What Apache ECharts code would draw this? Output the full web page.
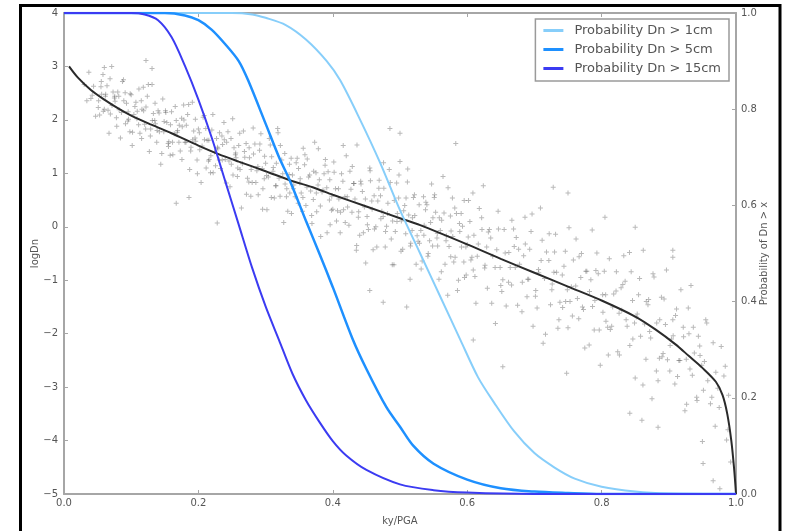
<!DOCTYPE html>
<html><head><meta charset="utf-8">
<script src="https://cdn.jsdelivr.net/npm/echarts@6/dist/echarts.min.js"></script>
<style>html,body{margin:0;padding:0;background:#fff}#c{width:789px;height:531px}</style>
</head><body><div id="c"></div>
<script>
// ---- data ----
const xTicks = [0, 0.2, 0.4, 0.6, 0.8, 1.0];
const logTicks = [-5, -4, -3, -2, -1, 0, 1, 2, 3, 4];
const probTicks = [0, 0.2, 0.4, 0.6, 0.8, 1.0];
const legendNames = ['Probability Dn > 1cm', 'Probability Dn > 5cm', 'Probability Dn > 15cm'];

const meanCurve = [[0.0075,3.0],[0.02,2.8],[0.04,2.56],[0.06,2.38],[0.08,2.22],[0.10,2.08],[0.13,1.91],[0.16,1.75],[0.20,1.52],[0.23,1.36],[0.26,1.22],[0.30,1.04],[0.336,0.87],[0.37,0.74],[0.40,0.60],[0.45,0.38],[0.50,0.16],[0.53,0.03],[0.60,-0.33],[0.65,-0.6],[0.70,-0.86],[0.75,-1.12],[0.80,-1.38],[0.85,-1.68],[0.88,-1.92],[0.91,-2.2],[0.93,-2.42],[0.95,-2.64],[0.97,-2.9],[0.98,-3.15],[0.987,-3.5],[0.993,-4.0],[0.997,-4.5],[1.0,-5.0]];

const prob1cm = [[0,1],[0.25,1.0],[0.28,0.997],[0.30,0.99],[0.33,0.975],[0.36,0.945],[0.391,0.90],[0.411,0.86],[0.44,0.78],[0.47,0.69],[0.50,0.59],[0.53,0.50],[0.56,0.41],[0.59,0.32],[0.616,0.243],[0.64,0.19],[0.67,0.13],[0.70,0.085],[0.73,0.055],[0.76,0.032],[0.80,0.015],[0.85,0.005],[0.90,0.001],[1.0,0]];
const prob5cm = [[0,1],[0.15,1.0],[0.18,0.995],[0.20,0.985],[0.22,0.965],[0.24,0.935],[0.26,0.90],[0.274,0.86],[0.30,0.77],[0.32,0.70],[0.336,0.652],[0.36,0.568],[0.38,0.50],[0.40,0.43],[0.429,0.324],[0.45,0.26],[0.48,0.18],[0.50,0.14],[0.52,0.10],[0.55,0.063],[0.60,0.03],[0.65,0.012],[0.70,0.005],[0.75,0.002],[0.80,0],[1.0,0]];
const prob15cm = [[0,1],[0.10,1.0],[0.12,0.997],[0.14,0.985],[0.16,0.95],[0.18,0.89],[0.20,0.82],[0.22,0.74],[0.24,0.65],[0.26,0.56],[0.28,0.47],[0.30,0.39],[0.32,0.32],[0.34,0.25],[0.36,0.195],[0.38,0.15],[0.40,0.11],[0.42,0.08],[0.45,0.05],[0.50,0.02],[0.55,0.008],[0.60,0.003],[0.70,0],[1.0,0]];

const scatterPoints = [
[0.030,2.66],[0.034,2.36],[0.037,2.89],
[0.040,2.40],[0.044,2.63],[0.047,2.07],[0.042,2.46],
[0.055,2.62],[0.051,2.23],[0.058,2.85],[0.053,2.09],[0.056,2.48],
[0.060,2.20],[0.064,2.64],[0.067,1.75],[0.062,2.48],[0.069,2.11],
[0.075,2.41],[0.071,3.00],[0.078,2.04],[0.073,2.52],[0.076,2.35],
[0.080,2.52],[0.084,1.66],[0.087,2.72],[0.082,2.19],[0.089,2.36],
[0.095,1.98],[0.091,2.51],[0.098,1.78],[0.093,2.31],[0.096,2.01],
[0.100,2.47],[0.104,2.10],[0.107,2.33],[0.102,1.77],[0.109,2.16],
[0.115,2.36],[0.111,1.91],[0.118,2.61],[0.113,1.75],[0.116,2.20],
[0.120,1.92],[0.124,2.44],[0.127,1.41],[0.122,2.24],[0.129,1.83],
[0.135,1.99],[0.131,2.66],[0.138,1.58],[0.133,2.12],[0.136,1.93],
[0.140,2.17],[0.144,1.17],[0.147,2.39],[0.142,1.78],[0.149,1.97],
[0.155,1.56],[0.151,2.17],[0.158,1.34],[0.153,1.95],[0.156,1.59],
[0.160,2.15],[0.164,1.74],[0.167,1.99],[0.162,1.35],[0.169,1.80],
[0.175,2.03],[0.171,1.58],[0.178,2.28],[0.173,1.42],[0.176,1.87],
[0.180,1.58],[0.184,2.10],[0.187,1.07],[0.182,1.90],[0.189,1.49],
[0.195,1.66],[0.191,2.33],[0.198,1.25],[0.193,1.79],[0.196,1.60],
[0.200,1.83],[0.204,0.83],[0.207,2.05],[0.202,1.44],[0.209,1.63],
[0.215,1.23],[0.211,1.84],[0.218,1.01],[0.213,1.62],[0.216,1.26],
[0.220,1.81],[0.224,1.40],[0.227,1.65],[0.222,1.01],[0.229,1.46],
[0.235,1.70],[0.231,1.25],[0.238,1.95],[0.233,1.09],[0.236,1.54],
[0.240,1.26],[0.244,1.78],[0.247,0.75],[0.242,1.58],[0.249,1.17],
[0.255,1.35],[0.251,2.02],[0.258,0.94],[0.253,1.48],[0.256,1.29],
[0.260,1.52],[0.264,0.35],[0.267,1.79],[0.262,1.07],[0.269,1.30],
[0.275,0.84],[0.271,1.56],[0.278,0.57],[0.273,0.91],[0.276,1.29],
[0.280,0.83],[0.284,1.55],[0.287,1.05],[0.282,1.36],[0.289,0.60],
[0.295,1.09],[0.291,1.43],[0.298,0.90],[0.293,1.74],[0.296,0.71],
[0.300,1.19],[0.304,0.93],[0.307,1.53],[0.302,0.32],[0.309,1.31],
[0.315,0.77],[0.311,1.04],[0.318,1.84],[0.313,0.54],[0.316,1.19],
[0.320,0.91],[0.324,1.25],[0.327,0.08],[0.322,1.52],[0.329,0.80],
[0.335,0.98],[0.331,0.56],[0.338,1.28],[0.333,0.29],[0.336,0.63],
[0.340,0.97],[0.344,0.56],[0.347,1.28],[0.342,0.78],[0.349,1.09],
[0.355,0.29],[0.351,0.82],[0.358,1.16],[0.353,0.63],[0.356,1.47],
[0.360,0.40],[0.364,0.93],[0.367,0.67],[0.362,1.27],[0.369,0.06],
[0.375,1.01],[0.371,0.51],[0.378,0.78],[0.373,1.58],[0.376,0.28],
[0.380,0.88],[0.384,0.65],[0.387,0.99],[0.382,-0.18],[0.389,1.26],
[0.395,0.50],[0.391,0.73],[0.398,0.31],[0.393,1.03],[0.396,0.04],
[0.400,0.33],[0.404,0.71],[0.407,0.30],[0.402,1.02],[0.409,0.52],
[0.415,0.85],[0.411,-0.11],[0.418,0.56],[0.413,0.99],[0.416,0.32],
[0.420,1.33],[0.424,0.03],[0.427,0.70],[0.422,0.37],[0.429,1.13],
[0.435,-0.44],[0.431,0.81],[0.438,0.18],[0.433,0.52],[0.436,1.53],
[0.440,-0.16],[0.444,0.66],[0.447,0.37],[0.442,0.80],[0.449,-0.68],
[0.455,1.10],[0.451,0.19],[0.458,0.48],[0.453,-0.05],[0.456,0.86],
[0.460,-0.43],[0.464,0.00],[0.467,0.48],[0.462,-0.04],[0.469,0.87],
[0.475,0.19],[0.471,0.58],[0.478,-0.38],[0.473,0.29],[0.476,0.72],
[0.480,0.01],[0.484,1.07],[0.487,-0.23],[0.482,0.44],[0.489,0.11],
[0.495,0.82],[0.491,-0.71],[0.498,0.54],[0.493,-0.09],[0.496,0.25],
[0.500,1.22],[0.504,-0.42],[0.507,0.40],[0.502,0.11],[0.509,0.54],
[0.515,-0.98],[0.511,0.84],[0.518,-0.07],[0.513,0.22],[0.516,-0.31],
[0.520,0.55],[0.524,-0.70],[0.527,-0.27],[0.522,0.21],[0.529,-0.31],
[0.535,0.56],[0.531,-0.07],[0.538,0.32],[0.533,-0.64],[0.536,0.03],
[0.540,0.41],[0.544,-0.26],[0.547,0.80],[0.542,-0.50],[0.549,0.17],
[0.555,-0.21],[0.551,0.55],[0.558,-0.98],[0.553,0.27],[0.556,-0.36],
[0.560,-0.07],[0.564,0.94],[0.567,-0.70],[0.562,0.12],[0.569,-0.17],
[0.575,0.20],[0.571,-1.28],[0.578,0.54],[0.573,-0.37],[0.576,-0.08],
[0.580,-0.66],[0.584,0.25],[0.587,-1.00],[0.582,-0.57],[0.589,-0.09],
[0.595,-0.66],[0.591,0.25],[0.598,-0.38],[0.593,0.01],[0.596,-0.95],
[0.600,-0.33],[0.604,0.10],[0.607,-0.57],[0.602,0.49],[0.609,-0.81],
[0.610,-0.16],[0.615,-0.55],[0.618,0.34],[0.613,-1.43],
[0.622,-0.05],[0.626,-0.77],[0.629,-0.38],[0.624,0.77],
[0.630,-1.15],[0.635,-0.21],[0.638,-0.55],[0.633,-0.05],
[0.642,-1.81],[0.646,0.29],[0.649,-0.76],[0.644,-0.43],
[0.650,-1.10],[0.655,-0.05],[0.658,-1.48],[0.653,-0.99],
[0.662,-0.48],[0.666,-1.09],[0.669,-0.04],[0.664,-0.76],
[0.670,-0.37],[0.675,-1.47],[0.678,-0.70],[0.673,-0.20],
[0.682,-1.04],[0.686,0.18],[0.689,-1.31],[0.684,-0.54],
[0.690,-0.98],[0.695,-0.09],[0.698,-1.86],[0.693,-0.42],
[0.702,-1.19],[0.706,-0.80],[0.709,0.35],[0.704,-1.52],
[0.710,-0.63],[0.715,-0.97],[0.718,-0.47],[0.713,-2.18],
[0.722,-0.13],[0.726,-1.18],[0.729,-0.85],[0.724,-1.46],
[0.730,-0.47],[0.735,-1.90],[0.738,-1.41],[0.733,-0.85],
[0.742,-1.51],[0.746,-0.46],[0.749,-1.18],[0.744,-0.74],
[0.750,-1.89],[0.755,-1.12],[0.758,-0.62],[0.753,-1.40],
[0.762,-0.23],[0.766,-1.72],[0.769,-0.95],[0.764,-1.34],
[0.770,-0.50],[0.775,-2.27],[0.778,-0.83],[0.773,-1.55],
[0.782,-1.21],[0.786,-0.06],[0.789,-1.93],[0.784,-0.99],
[0.790,-1.38],[0.795,-0.88],[0.798,-2.59],[0.793,-0.49],
[0.802,-1.60],[0.806,-1.27],[0.809,-1.88],[0.804,-0.83],
[0.810,-2.40],[0.815,-1.86],[0.818,-1.26],[0.813,-1.92],
[0.822,-0.84],[0.826,-1.62],[0.829,-1.14],[0.824,-2.34],
[0.830,-1.56],[0.835,-1.02],[0.838,-1.86],[0.833,-0.54],
[0.842,-2.22],[0.846,-1.38],[0.849,-1.80],[0.844,-0.84],
[0.850,-2.83],[0.855,-1.27],[0.858,-2.05],[0.853,-1.63],
[0.862,-0.44],[0.866,-2.48],[0.869,-1.46],[0.864,-1.82],
[0.870,-1.36],[0.875,-3.22],[0.878,-0.94],[0.873,-2.08],
[0.882,-1.80],[0.886,-2.46],[0.889,-1.32],[0.884,-2.88],
[0.890,-2.43],[0.895,-1.83],[0.898,-2.49],[0.893,-1.35],
[0.902,-2.22],[0.906,-1.74],[0.909,-2.94],[0.904,-2.10],
[0.910,-1.66],[0.915,-2.50],[0.918,-1.18],[0.913,-2.80],
[0.922,-2.06],[0.926,-2.48],[0.929,-1.52],[0.924,-3.44],
[0.930,-2.00],[0.935,-2.78],[0.938,-2.36],[0.933,-1.10],
[0.942,-3.25],[0.946,-2.23],[0.949,-2.59],[0.944,-2.05],
[0.950,-4.02],[0.955,-1.74],[0.958,-2.88],[0.953,-2.52],
[0.962,-3.31],[0.966,-2.17],[0.969,-3.73],[0.964,-3.19],
[0.970,-2.72],[0.975,-3.38],[0.978,-2.24],[0.973,-3.02],
[0.982,-2.79],[0.986,-3.99],[0.989,-3.15],[0.984,-2.61],
[0.988,-3.80],[0.992,-4.40],
[0.060,2.98],[0.122,3.11],[0.131,2.96],[0.167,0.44],[0.186,0.55],[0.228,0.07],[0.583,1.56],[0.728,0.74],[0.750,0.63],[0.609,-2.12],[0.653,-2.62],[0.748,-2.74],[0.475,-1.41],[0.510,-1.50],[0.455,-1.19],[0.485,1.84],[0.500,1.75],[0.805,0.18],[0.850,-0.01],[0.906,-0.44],[0.906,-0.57],[0.842,-3.49],[0.860,-3.62],[0.884,-3.75],[0.951,-4.43],[0.966,-4.75],[0.976,-4.90]
];

const scatterPoints2 = [
[0.0515,2.36],[0.0555,2.72],[0.0585,2.16],
[0.0615,2.44],[0.0655,2.18],[0.0685,2.77],
[0.0715,2.27],[0.0755,2.44],[0.0785,1.88],
[0.0815,2.44],[0.0855,2.14],[0.0885,2.75],
[0.0915,1.93],[0.0955,2.15],[0.0985,2.49],
[0.1015,1.52],[0.1055,2.25],[0.1085,2.02],
[0.1115,2.58],[0.1155,1.65],[0.1185,2.17],
[0.1215,1.83],[0.1255,2.66],[0.1285,1.70],
[0.1315,1.99],[0.1355,2.31],[0.1385,1.80],
[0.1415,2.13],[0.1455,1.37],[0.1485,1.78],
[0.1515,2.14],[0.1555,1.50],[0.1585,1.91],
[0.1615,1.58],[0.1655,2.25],[0.1685,1.77],
[0.1715,1.90],[0.1755,1.26],[0.1785,2.00],
[0.1815,1.58],[0.1855,2.29],[0.1885,1.42],
[0.1915,1.63],[0.1955,2.01],[0.1985,0.99],
[0.2015,1.76],[0.2055,1.51],[0.2085,2.08],
[0.2115,1.10],[0.2155,1.62],[0.2185,1.33],
[0.2215,2.10],[0.2255,1.14],[0.2285,1.49],
[0.2315,1.76],[0.2355,1.25],[0.2385,1.63],
[0.2415,0.82],[0.2455,1.23],[0.2485,1.65],
[0.2515,0.97],[0.2555,1.38],[0.2585,1.10],
[0.2615,1.75],[0.2655,1.18],[0.2685,1.41],
[0.2715,0.61],[0.2755,1.48],[0.2785,1.07],
[0.2815,1.85],[0.2855,0.83],[0.2885,1.13],
[0.2915,1.55],[0.2955,0.33],[0.2985,1.32],
[0.3015,0.96],[0.3055,1.65],[0.3085,0.55],
[0.3115,1.11],[0.3155,0.77],[0.3185,1.76],
[0.3215,0.57],[0.3255,0.99],[0.3285,1.37],
[0.3315,0.71],[0.3355,1.17],[0.3385,0.25],
[0.3415,0.71],[0.3455,1.20],[0.3485,0.44],
[0.3515,0.90],[0.3555,0.55],[0.3585,1.35],
[0.3615,0.74],[0.3655,0.97],[0.3685,0.21],
[0.3715,1.04],[0.3755,0.63],[0.3785,1.46],
[0.3815,0.39],[0.3855,0.69],[0.3885,1.15],
[0.3915,-0.11],[0.3955,0.88],[0.3985,0.57],
[0.4015,1.21],[0.4055,0.11],[0.4085,0.71],
[0.4115,0.27],[0.4155,1.52],[0.4185,0.08],
[0.4215,0.56],[0.4255,1.04],[0.4285,0.27],
[0.4315,0.81],[0.4355,-0.35],[0.4385,0.28],
[0.4415,0.85],[0.4455,-0.11],[0.4485,0.52],
[0.4515,0.04],[0.4555,1.05],[0.4585,0.33],
[0.4615,0.58],[0.4655,-0.38],[0.4685,0.72],
[0.4715,0.15],[0.4755,1.20],[0.4785,-0.09],
[0.4815,0.25],[0.4855,0.83],[0.4885,-0.71],
[0.4915,0.49],[0.4955,0.10],[0.4985,0.97],
[0.5015,-0.46],[0.5055,0.30],[0.5085,-0.13],
[0.5115,1.08],[0.5155,-0.36],[0.5185,0.17],
[0.5215,0.60],[0.5255,-0.17],[0.5285,0.41],
[0.5315,-0.79],[0.5355,-0.16],[0.5385,0.46],
[0.5415,-0.55],[0.5455,0.08],[0.5485,-0.36],
[0.5515,0.60],[0.5555,-0.12],[0.5585,0.17],
[0.5615,-0.84],[0.5655,0.26],[0.5685,-0.26],
[0.5715,0.73],[0.5755,-0.56],[0.5785,-0.18],
[0.5815,0.35],[0.5855,-1.19],[0.5885,0.06],
[0.5915,-0.38],[0.5955,0.49],[0.5985,-0.90],
[0.6015,-0.19],[0.6055,-0.62],[0.6085,0.63],
[0.6115,-0.93],[0.6165,-0.32],
[0.6215,0.17],[0.6265,-0.72],
[0.6315,-0.10],[0.6365,-1.43],
[0.6415,-0.76],[0.6465,-0.04],
[0.6515,-1.21],[0.6565,-0.49],
[0.6615,-1.04],[0.6665,0.12],
[0.6715,-0.76],[0.6765,-0.42],
[0.6815,-1.59],[0.6865,-0.32],
[0.6915,-0.98],[0.6965,0.24],
[0.7015,-1.30],[0.7065,-0.86],
[0.7115,-0.25],[0.7165,-2.01],
[0.7215,-0.63],[0.7265,-1.07],
[0.7315,-0.14],[0.7365,-1.74],
[0.7415,-0.90],[0.7465,-1.40],
[0.7515,-0.02],[0.7565,-1.67],
[0.7615,-1.11],[0.7665,-0.56],
[0.7715,-1.50],[0.7765,-0.83],
[0.7815,-2.21],[0.7865,-1.49],
[0.7915,-0.82],[0.7965,-1.93],
[0.8015,-1.27],[0.8065,-1.77],
[0.8115,-0.60],[0.8165,-1.50],
[0.8215,-1.20],[0.8265,-2.40],
[0.8315,-1.08],[0.8365,-1.74],
[0.8415,-0.48],[0.8465,-2.10],
[0.8515,-1.69],[0.8565,-0.97],
[0.8615,-2.96],[0.8665,-1.40],
[0.8715,-1.96],[0.8765,-0.88],
[0.8815,-2.70],[0.8865,-1.74],
[0.8915,-2.37],[0.8965,-0.81],
[0.9015,-2.70],[0.9065,-2.04],
[0.9115,-1.54],[0.9165,-2.50],
[0.9215,-1.88],[0.9265,-3.32],
[0.9315,-2.66],[0.9365,-1.88],
[0.9415,-3.19],[0.9465,-2.41],
[0.9515,-3.06],[0.9565,-1.80]
];

// ---- styles ----
const FONT = 'DejaVu Sans';
const AXIS_COLOR = '#a6a6a6';
const LABEL_COLOR = '#555';
const colors = { c1: '#87cefa', c5: '#1e90ff', c15: '#3b3bf2', mean: '#2a2a2a' };
const crossSymbol = 'path://M4,0H6V10H4ZM0,4H10V6H0Z';
const dotColor = 'rgba(60,60,60,0.45)';

const chart = echarts.init(document.getElementById('c'), null, { renderer: 'canvas' });
const axisCommon = {
  axisLine: { show: true, onZero: false, lineStyle: { color: AXIS_COLOR, width: 2 } },
  axisTick: { show: true, inside: true, length: 4, lineStyle: { color: AXIS_COLOR } },
  splitLine: { show: false },
  nameMoveOverlap: false,
  axisLabel: { color: LABEL_COLOR, fontFamily: FONT, fontSize: 10 },
  nameTextStyle: { color: LABEL_COLOR, fontFamily: FONT, fontSize: 10 }
};
const minus = v => String(v).replace('-', '\u2212');

chart.setOption({
  animation: false,
  backgroundColor: '#fff',
  grid: { left: 64, top: 13, width: 672, height: 481 },
  xAxis: [
    Object.assign({}, axisCommon, {
      type: 'value', min: xTicks[0], max: xTicks[xTicks.length - 1], interval: 0.2, position: 'bottom',
      name: 'ky/PGA', nameLocation: 'middle', nameGap: 22,
      axisLabel: Object.assign({}, axisCommon.axisLabel, { margin: 4, formatter: v => v.toFixed(1) })
    }),
    Object.assign({}, axisCommon, {
      type: 'value', min: 0, max: 1, interval: 0.2, position: 'top', axisLabel: { show: false }
    })
  ],
  yAxis: [
    Object.assign({}, axisCommon, {
      type: 'value', min: logTicks[0], max: logTicks[logTicks.length - 1], interval: 1, position: 'left',
      name: 'logDn', nameLocation: 'middle', nameGap: 24, nameRotate: 90,
      axisLabel: Object.assign({}, axisCommon.axisLabel, { margin: 6, formatter: v => minus(v) })
    }),
    Object.assign({}, axisCommon, {
      type: 'value', min: probTicks[0], max: probTicks[probTicks.length - 1], interval: 0.2, position: 'right',
      name: 'Probability of Dn > x', nameLocation: 'middle', nameGap: 23, nameRotate: 90,
      axisLabel: Object.assign({}, axisCommon.axisLabel, { margin: 5, formatter: v => v.toFixed(1) })
    })
  ],
  legend: {
    right: 789 - 729, top: 19, orient: 'vertical',
    backgroundColor: '#fff', borderColor: '#9a9a9a', borderWidth: 1.5, borderRadius: 0,
    padding: [5, 8, 6, 8], itemGap: 6, itemWidth: 20, itemHeight: 3,
    textStyle: { color: '#555', fontFamily: FONT, fontSize: 13, padding: [0, 0, 0, 6] },
    data: [
      { name: legendNames[0], icon: 'rect', itemStyle: { color: colors.c1 } },
      { name: legendNames[1], icon: 'rect', itemStyle: { color: colors.c5 } },
      { name: legendNames[2], icon: 'rect', itemStyle: { color: colors.c15 } }
    ]
  },
  series: [
    {
      type: 'scatter', name: 'data', xAxisIndex: 0, yAxisIndex: 0, data: scatterPoints,
      symbol: crossSymbol, symbolSize: 5, itemStyle: { color: dotColor }, silent: true
    },
    {
      type: 'scatter', name: 'data2', xAxisIndex: 0, yAxisIndex: 0, data: scatterPoints2,
      symbol: crossSymbol, symbolSize: 5, itemStyle: { color: dotColor }, silent: true
    },
    {
      type: 'line', name: 'mean', xAxisIndex: 0, yAxisIndex: 0, data: meanCurve,
      showSymbol: false, smooth: 0.3,
      lineStyle: { color: colors.mean, width: 2 }
    },
    {
      type: 'line', name: legendNames[0], xAxisIndex: 0, yAxisIndex: 1, data: prob1cm,
      showSymbol: false, smooth: 0.3,
      itemStyle: { color: colors.c1 }, lineStyle: { color: colors.c1, width: 2 }
    },
    {
      type: 'line', name: legendNames[1], xAxisIndex: 0, yAxisIndex: 1, data: prob5cm,
      showSymbol: false, smooth: 0.3,
      itemStyle: { color: colors.c5 }, lineStyle: { color: colors.c5, width: 2.5 }
    },
    {
      type: 'line', name: legendNames[2], xAxisIndex: 0, yAxisIndex: 1, data: prob15cm,
      showSymbol: false, smooth: 0.3,
      itemStyle: { color: colors.c15 }, lineStyle: { color: colors.c15, width: 2 }
    }
  ],
  graphic: [
    { type: 'rect', shape: { x: 20.5, y: 5.5, width: 759.5, height: 540 }, style: { fill: 'none', stroke: '#000', lineWidth: 3 }, silent: true }
  ]
});
</script>
</body></html>
